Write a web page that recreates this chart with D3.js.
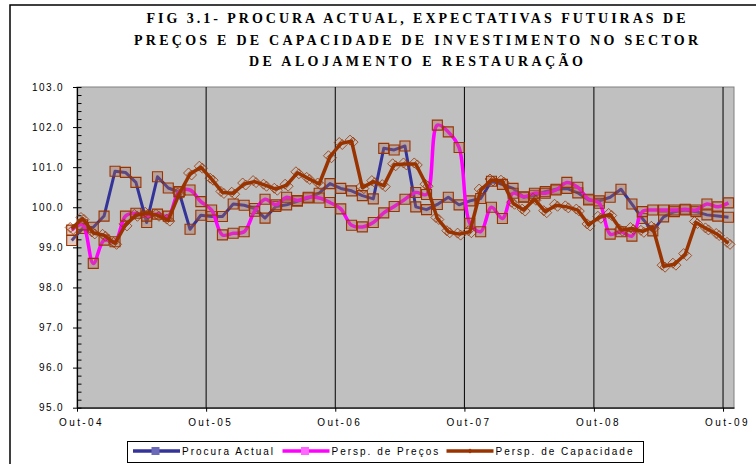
<!DOCTYPE html>
<html>
<head>
<meta charset="utf-8">
<script src="https://cdn.jsdelivr.net/npm/d3@7"></script>
<style>
  body { margin: 0; background: #fff; }
  svg { display: block; }
</style>
</head>
<body>
<div id="chart"></div>
<script>
// title lines
const titleLines = [
  'FIG 3.1- PROCURA ACTUAL, EXPECTATIVAS FUTUIRAS DE',
  'PREÇOS E DE CAPACIDADE DE INVESTIMENTO NO SECTOR',
  'DE ALOJAMENTO E RESTAURAÇÃO'
];

// monthly observations, Set-04 .. Out-09
const months = d3.timeMonth.range(new Date(2004, 8, 1), new Date(2009, 10, 1));

const procuraActual = [
  99.17, 99.47, 99.50, 99.78, 100.90, 100.87, 100.62, 99.62, 100.76, 100.48,
  100.38, 99.45, 99.80, 99.77, 99.77, 100.08, 100.05, 99.97, 99.73, 100.02,
  100.06, 100.15, 100.23, 100.35, 100.59, 100.47, 100.41, 100.29, 100.21, 101.47,
  101.43, 101.53, 100.01, 99.94, 100.07, 100.25, 100.06, 100.16, 100.22, 100.65,
  100.57, 100.47, 100.25, 100.30, 100.39, 100.45, 100.47, 100.36, 100.18, 100.16,
  100.25, 100.45, 100.08, 99.72, 99.41, 99.76, 99.89, 99.93, 99.89, 99.81,
  99.78, 99.75
];

const perspPrecos = [
  99.43, 99.56, 98.60, 99.18, 99.14, 99.78, 99.85, 99.78, 99.83, 99.78,
  100.39, 100.43, 100.14, 99.93, 99.31, 99.35, 99.39, 99.90, 100.20, 100.06,
  100.25, 100.17, 100.25, 100.23, 100.12, 99.96, 99.55, 99.51, 99.62, 99.86,
  100.02, 100.20, 100.37, 100.32, 102.05, 101.88, 101.49, 99.60, 99.39, 100.00,
  99.72, 100.35, 100.26, 100.35, 100.35, 100.43, 100.62, 100.50, 100.20, 100.10,
  99.33, 99.39, 99.28, 99.89, 99.93, 99.93, 99.93, 99.95, 99.93, 100.08,
  100.01, 100.11
];

const perspCapacidade = [
  99.47, 99.72, 99.36, 99.30, 99.10, 99.56, 99.80, 99.85, 99.80, 99.68,
  100.33, 100.83, 101.00, 100.70, 100.37, 100.35, 100.58, 100.64, 100.55, 100.45,
  100.55, 100.86, 100.72, 100.58, 101.26, 101.59, 101.65, 100.49, 100.64, 100.54,
  101.06, 101.08, 101.08, 100.55, 99.72, 99.39, 99.33, 99.39, 100.43, 100.68,
  100.65, 100.10, 99.93, 100.20, 99.89, 100.05, 100.01, 99.93, 99.56, 99.75,
  99.82, 99.43, 99.47, 99.40, 99.50, 98.53, 98.58, 98.82, 99.62, 99.46,
  99.32, 99.10
];

const yTicks = [95, 96, 97, 98, 99, 100, 101, 102, 103];
const xTickDates = [2004, 2005, 2006, 2007, 2008, 2009].map(y => new Date(y, 9, 1));
const xTickLabels = ['Out-04', 'Out-05', 'Out-06', 'Out-07', 'Out-08', 'Out-09'];

const seriesNames = ['Procura Actual', 'Persp. de Preços', 'Persp. de Capacidade'];
const seriesColors = ['#333399', '#ff00ff', '#993300'];

const series = [
  { name: seriesNames[0], values: procuraActual, color: seriesColors[0], marker: 'square', curve: d3.curveLinear, width: 3 },
  { name: seriesNames[1], values: perspPrecos, color: seriesColors[1], marker: 'square', curve: d3.curveCatmullRom, width: 3.5 },
  { name: seriesNames[2], values: perspCapacidade, color: seriesColors[2], marker: 'diamond', curve: d3.curveLinear, width: 3.5 }
];

const W = 756, H = 464;
const plot = { left: 77, right: 734, top: 87, bottom: 407.7 };

const svg = d3.select('#chart').append('svg')
  .attr('width', W)
  .attr('height', H);

svg.append('rect').attr('width', W).attr('height', H).attr('fill', '#fff');

// outer frame (runs off the picture on the right and bottom)
svg.append('rect')
  .attr('x', 10).attr('y', 5)
  .attr('width', 800).attr('height', 500)
  .attr('fill', 'none')
  .attr('stroke', '#000')
  .attr('stroke-width', 1.5);

// title
const titleWidths = [539, 564, 334];
svg.append('g').selectAll('text')
  .data(titleLines)
  .enter()
  .append('text')
    .attr('x', 416)
    .attr('y', (d, i) => 23 + i * 21.5)
    .attr('text-anchor', 'middle')
    .attr('textLength', (d, i) => titleWidths[i])
    .attr('lengthAdjust', 'spacing')
    .style('font-family', '"Liberation Serif", "Times New Roman", serif')
    .style('font-weight', 'bold')
    .style('font-size', '14px')
    .text(d => d);

// scales
const x = d3.scaleTime()
  .domain([new Date(2004, 9, 1), new Date(2009, 10, 1)])
  .range([plot.left, plot.right]);

const y = d3.scaleLinear()
  .domain([95, 103])
  .range([plot.bottom, plot.top]);

// points sit in the middle of each month
const midMonth = d => new Date((+d + +d3.timeMonth.offset(d, 1)) / 2);

// plot area
svg.append('rect')
  .attr('x', plot.left).attr('y', plot.top)
  .attr('width', plot.right - plot.left)
  .attr('height', plot.bottom - plot.top)
  .attr('fill', '#c0c0c0')
  .attr('stroke', '#808080')
  .attr('stroke-width', 1);

// vertical gridlines at each October
svg.append('g').selectAll('line')
  .data(xTickDates.slice(1))
  .enter()
  .append('line')
    .attr('x1', d => x(d)).attr('x2', d => x(d))
    .attr('y1', plot.top).attr('y2', plot.bottom)
    .attr('stroke', '#000')
    .attr('stroke-width', 1);

// y axis: minor ticks inside, major ticks with labels
const yMinor = svg.append('g')
  .attr('transform', `translate(${plot.left},0)`)
  .call(d3.axisLeft(y).tickValues(d3.range(95, 103.001, 0.2)).tickSize(-4.5).tickFormat(''));
yMinor.select('.domain').remove();

const yAxis = svg.append('g')
  .attr('transform', `translate(${plot.left},0)`)
  .call(d3.axisLeft(y).tickValues(yTicks).tickSize(4).tickPadding(9).tickSizeOuter(0).tickFormat(d3.format('.1f')));
yAxis.selectAll('text')
  .style('font-family', 'Arial, "Liberation Sans", sans-serif')
  .style('font-size', '10px')
  .style('letter-spacing', '1.4px')
  .attr('fill', '#000');
yAxis.select('.domain').attr('stroke-width', 1.2);

// x axis
const xAxis = svg.append('g')
  .attr('transform', `translate(0,${plot.bottom})`)
  .call(d3.axisBottom(x).tickValues(xTickDates).tickSize(4).tickPadding(7).tickSizeOuter(0)
    .tickFormat((d, i) => xTickLabels[i]));
xAxis.selectAll('text')
  .attr('dx', 4)
  .style('font-family', 'Arial, "Liberation Sans", sans-serif')
  .style('font-size', '10px')
  .style('letter-spacing', '2.4px')
  .attr('fill', '#000');
xAxis.select('.domain').attr('stroke-width', 1.2);

// lines and markers
const squarePath = s => `M${-s},${-s}H${s}V${s}H${-s}Z`;
const diamondPath = s => `M0,${-s}L${s},0L0,${s}L${-s},0Z`;

function drawMarker(g, type, px, py) {
  if (type === 'square') {
    g.append('path')
      .attr('d', squarePath(5))
      .attr('transform', `translate(${px},${py})`)
      .attr('fill', 'rgba(170,110,90,0.35)')
      .attr('stroke', '#993300')
      .attr('stroke-width', 1.1);
  } else {
    [[-1.5, -1], [1.5, 1]].forEach(o => {
      g.append('path')
        .attr('d', diamondPath(5))
        .attr('transform', `translate(${px + o[0]},${py + o[1]})`)
        .attr('fill', 'none')
        .attr('stroke', '#993300')
        .attr('stroke-opacity', 0.8)
        .attr('stroke-width', 1);
    });
  }
}

series.forEach(s => {
  const g = svg.append('g');
  const line = d3.line()
    .x((d, i) => x(midMonth(months[i])))
    .y(d => y(d))
    .curve(s.curve);
  g.append('path')
    .datum(s.values)
    .attr('d', line)
    .attr('fill', 'none')
    .attr('stroke', s.color)
    .attr('stroke-width', s.width)
    .attr('stroke-linejoin', 'round');
  s.values.forEach((v, i) => drawMarker(g, s.marker, x(midMonth(months[i])), y(v)));
});

// legend
const legend = svg.append('g');
legend.append('rect')
  .attr('x', 127.5).attr('y', 441.5)
  .attr('width', 516).attr('height', 21)
  .attr('fill', '#fff')
  .attr('stroke', '#000')
  .attr('stroke-width', 1);

const legendX = [133, 282.5, 446.5];
series.forEach((s, i) => {
  const lx = legendX[i];
  legend.append('line')
    .attr('x1', lx).attr('x2', lx + 47)
    .attr('y1', 451).attr('y2', 451)
    .attr('stroke', s.color)
    .attr('stroke-width', 3.5);
  if (s.marker === 'square') {
    legend.append('rect')
      .attr('x', lx + 19).attr('y', 447.5)
      .attr('width', 7).attr('height', 7)
      .attr('fill', i === 0 ? '#6a6ab8' : '#ff66ff')
      .attr('stroke', i === 0 ? '#6a6ab8' : '#ff66ff');
  } else {
    legend.append('path')
      .attr('d', diamondPath(2.5))
      .attr('transform', `translate(${lx + 23.5},451)`)
      .attr('fill', '#993300');
  }
  legend.append('text')
    .attr('x', lx + 49)
    .attr('y', 454.5)
    .style('font-family', 'Arial, "Liberation Sans", sans-serif')
    .style('font-size', '10px')
    .style('letter-spacing', '2px')
    .text(s.name);
});
</script>
</body>
</html>
